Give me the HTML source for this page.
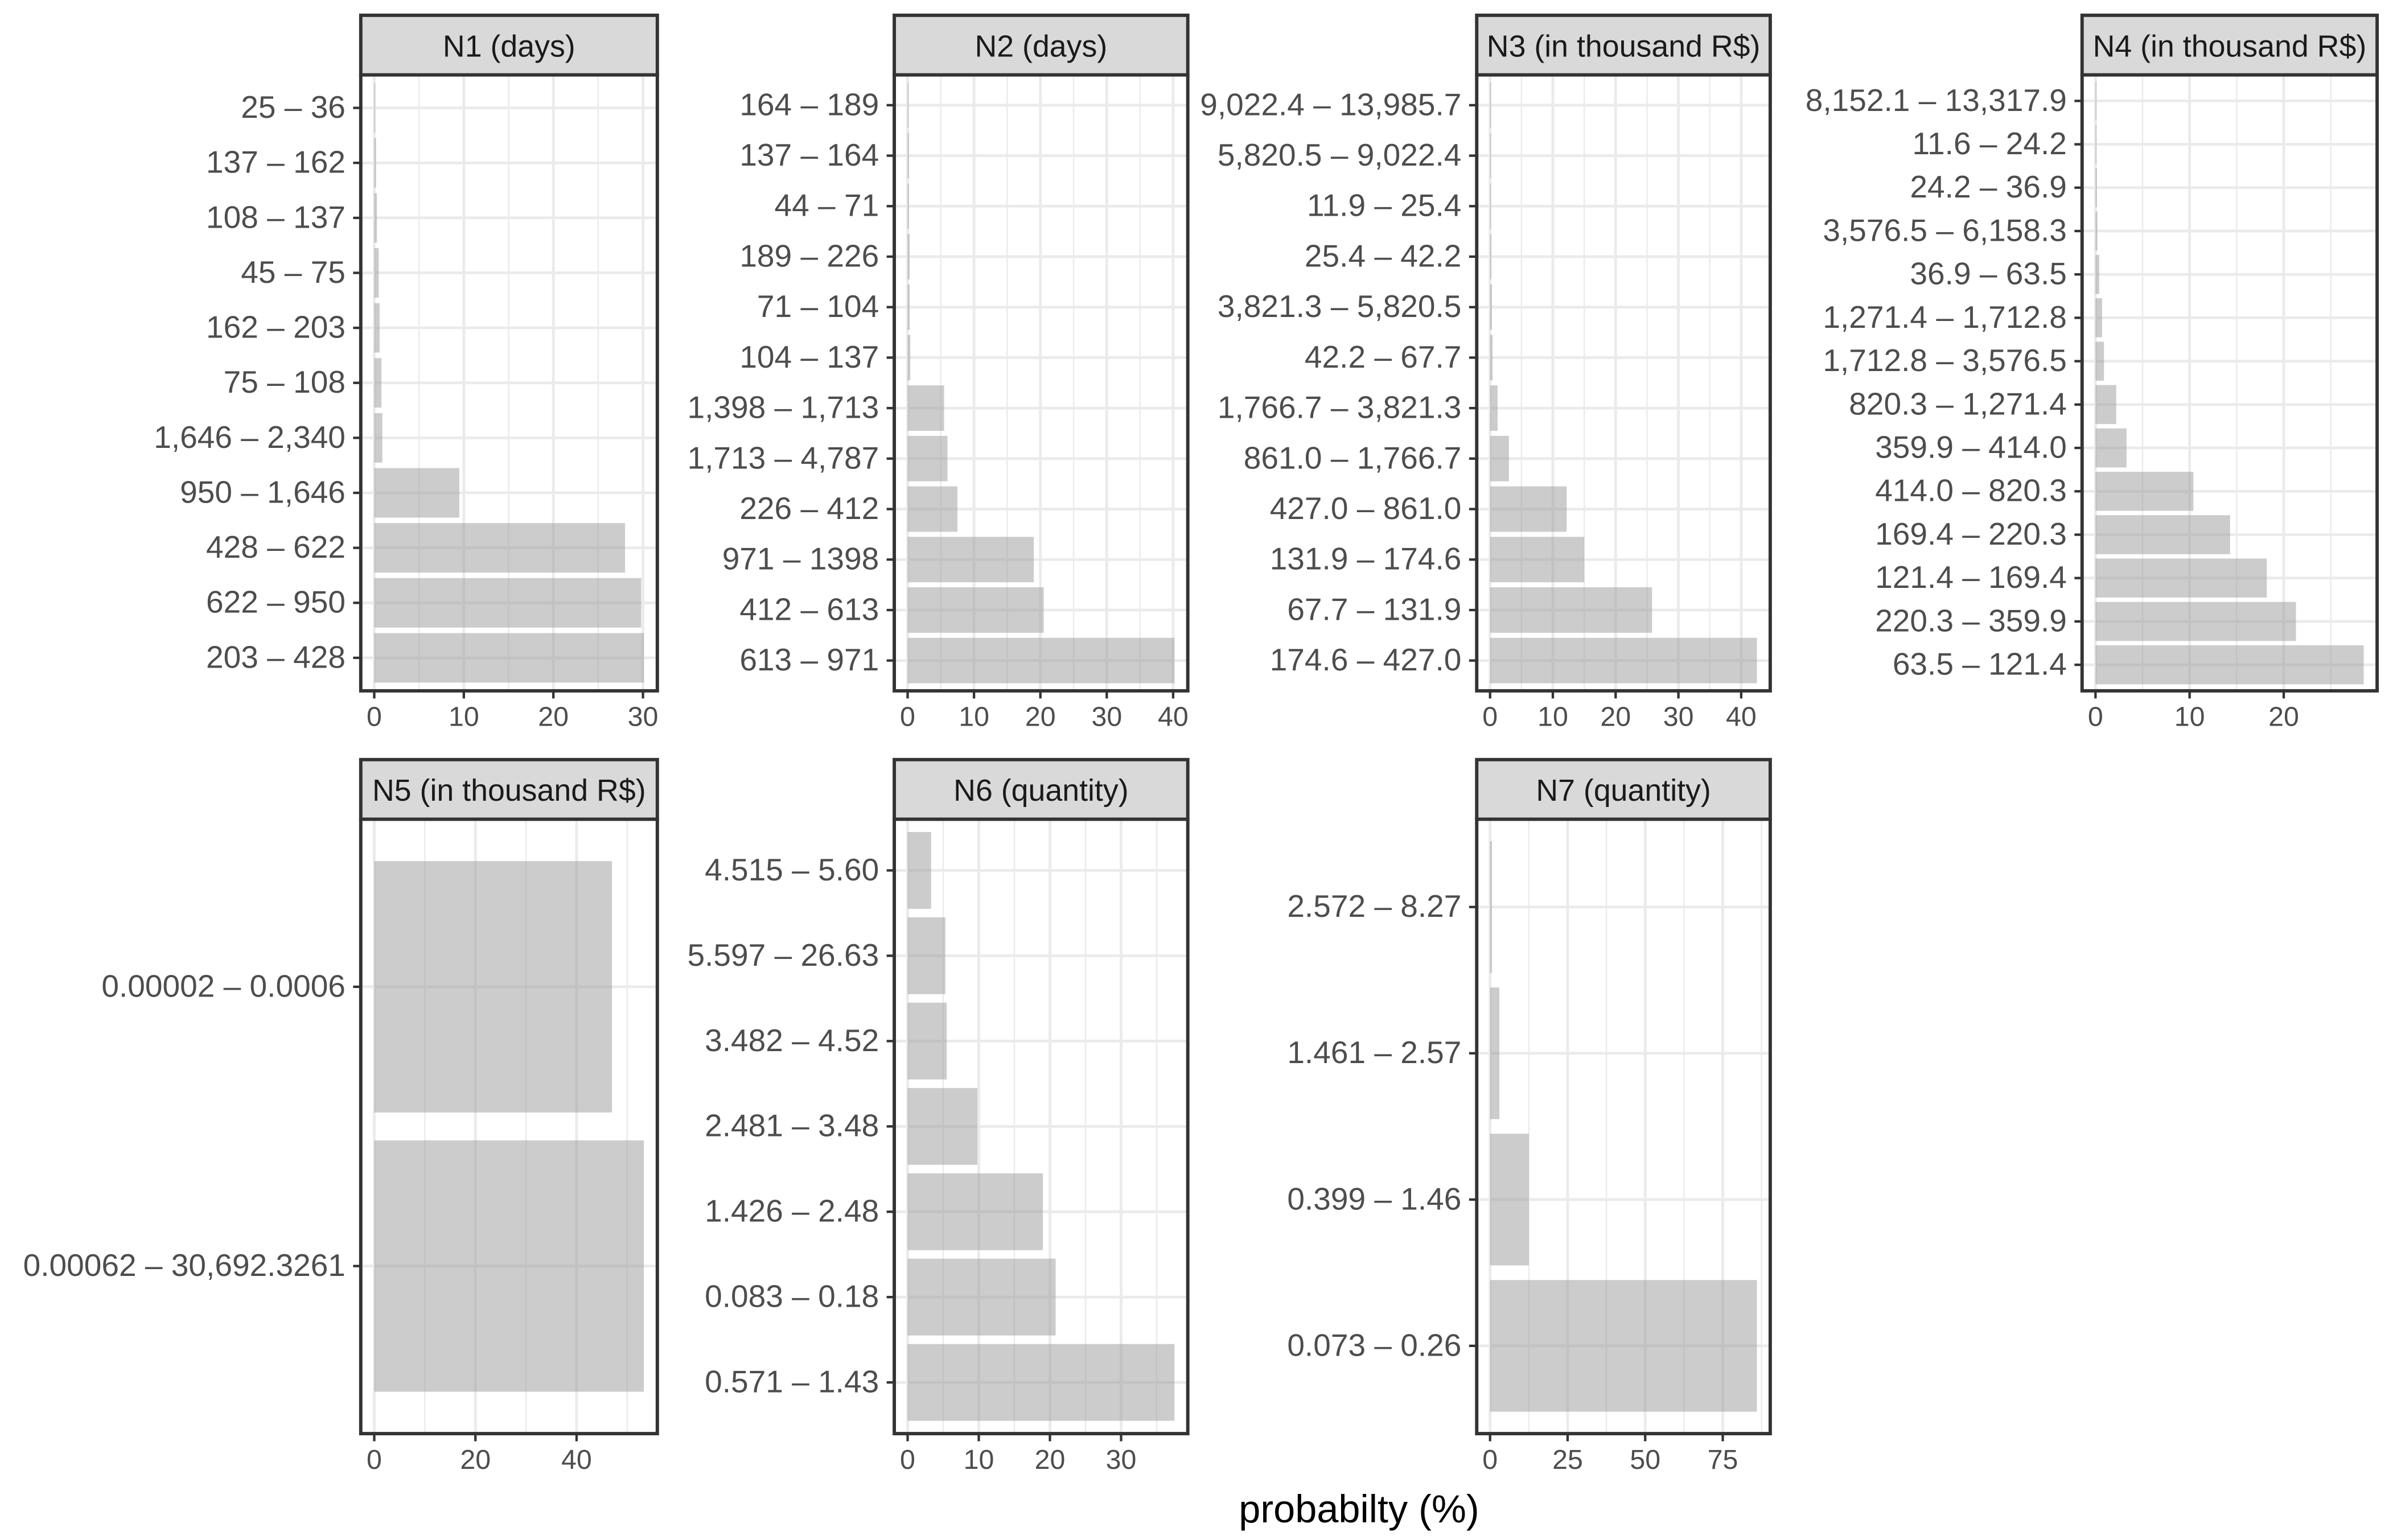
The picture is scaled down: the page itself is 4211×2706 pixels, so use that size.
<!DOCTYPE html>
<html><head><meta charset="utf-8"><style>
html,body{margin:0;padding:0;background:#fff;}
svg{display:block;font-family:"Liberation Sans",sans-serif;}
</style></head><body>
<svg id="chart" xmlns="http://www.w3.org/2000/svg" width="4211" height="2706" viewBox="0 0 1568 1007.6">
<rect x="0" y="0" width="1568" height="1007.6" fill="#fff"/>
<text x="889" y="996" text-anchor="middle" font-size="25.5" fill="#000">probabilty (%)</text>
</svg>
<script>
const titles = ["N1 (days)","N2 (days)","N3 (in thousand R$)","N4 (in thousand R$)","N5 (in thousand R$)","N6 (quantity)","N7 (quantity)"];
const cats1 = ["25 – 36","137 – 162","108 – 137","45 – 75","162 – 203","75 – 108","1,646 – 2,340","950 – 1,646","428 – 622","622 – 950","203 – 428"];
const vals1 = [0.1,0.2,0.3,0.5,0.6,0.8,0.9,9.5,28,29.8,30.1];
const cats2 = ["164 – 189","137 – 164","44 – 71","189 – 226","71 – 104","104 – 137","1,398 – 1,713","1,713 – 4,787","226 – 412","971 – 1398","412 – 613","613 – 971"];
const vals2 = [0.1,0.2,0.2,0.3,0.3,0.4,5.5,6,7.5,19,20.5,40.2];
const cats3 = ["9,022.4 – 13,985.7","5,820.5 – 9,022.4","11.9 – 25.4","25.4 – 42.2","3,821.3 – 5,820.5","42.2 – 67.7","1,766.7 – 3,821.3","861.0 – 1,766.7","427.0 – 861.0","131.9 – 174.6","67.7 – 131.9","174.6 – 427.0"];
const vals3 = [0.05,0.1,0.1,0.2,0.3,0.4,1.2,3,12.2,15,25.8,42.5];
const cats4 = ["8,152.1 – 13,317.9","11.6 – 24.2","24.2 – 36.9","3,576.5 – 6,158.3","36.9 – 63.5","1,271.4 – 1,712.8","1,712.8 – 3,576.5","820.3 – 1,271.4","359.9 – 414.0","414.0 – 820.3","169.4 – 220.3","121.4 – 169.4","220.3 – 359.9","63.5 – 121.4"];
const vals4 = [0.05,0.1,0.15,0.2,0.4,0.7,0.9,2.2,3.3,10.4,14.3,18.2,21.3,28.5];
const cats5 = ["0.00002 – 0.0006","0.00062 – 30,692.3261"];
const vals5 = [47,53.3];
const cats6 = ["4.515 – 5.60","5.597 – 26.63","3.482 – 4.52","2.481 – 3.48","1.426 – 2.48","0.083 – 0.18","0.571 – 1.43"];
const vals6 = [3.3,5.3,5.5,9.8,19,20.8,37.5];
const cats7 = ["2.572 – 8.27","1.461 – 2.57","0.399 – 1.46","0.073 – 0.26"];
const vals7 = [0.6,3,12.5,86];
const ticks1 = [0,10,20,30];
const ticks2 = [0,10,20,30,40];
const ticks3 = [0,10,20,30,40];
const ticks4 = [0,10,20];
const ticks5 = [0,20,40];
const ticks6 = [0,10,20,30];
const ticks7 = [0,25,50,75];

const NS="http://www.w3.org/2000/svg";
const svg=document.getElementById('chart');
function mk(tag,attrs,parent){const e=document.createElementNS(NS,tag);for(const k in attrs)e.setAttribute(k,attrs[k]);(parent||svg).appendChild(e);return e;}

const layout=[
 {x:236,w:194,row:0},{x:585,w:192,row:0},{x:966,w:192,row:0},{x:1362,w:193,row:0},
 {x:236,w:194,row:1},{x:585,w:192,row:1},{x:966,w:192,row:1}];
const rows=[{st:10,top:49,bot:452},{st:497,top:536,bot:938}];
const allCats=[cats1,cats2,cats3,cats4,cats5,cats6,cats7];
const allVals=[vals1,vals2,vals3,vals4,vals5,vals6,vals7];
const allTicks=[ticks1,ticks2,ticks3,ticks4,ticks5,ticks6,ticks7];

layout.forEach((L,i)=>{
  const R=rows[L.row], cats=allCats[i], vals=allVals[i], ticks=allTicks[i];
  const g=mk('g',{});
  
  
  const mx=Math.max(...vals);
  const lo=-0.05*mx, hi=1.05*mx;
  const xs=v=>L.x+(v-lo)/(hi-lo)*L.w;
  const n=cats.length, H=R.bot-R.top, unit=H/(n+0.2);
  const yc=k=>R.bot-(0.6+k)*unit;
  mk('rect',{x:L.x,y:R.top,width:L.w,height:H,fill:'#fff'},g);
  const step=ticks[1]-ticks[0];
  for(let v=ticks[0]-step/2; v<=hi; v+=step){ if(v<lo) continue;
    const l=mk('line',{x1:xs(v),x2:xs(v),y1:R.top,y2:R.bot,stroke:'#ebebeb','stroke-width':0.9},g);
    
    
  }
  ticks.forEach(t=>{
    const l=mk('line',{x1:xs(t),x2:xs(t),y1:R.top,y2:R.bot,stroke:'#ebebeb','stroke-width':1.8},g);
    
    
  });
  cats.forEach((c,j)=>{
    const k=n-1-j;
    const l=mk('line',{x1:L.x,x2:L.x+L.w,y1:yc(k),y2:yc(k),stroke:'#ebebeb','stroke-width':1.8},g);
    
    
  });
  cats.forEach((c,j)=>{
    const k=n-1-j;
    const b=mk('rect',{x:xs(0),y:yc(k)-0.45*unit,width:Math.max(0.6,xs(vals[j])-xs(0)),height:0.9*unit,fill:'#999',opacity:0.5},g);
    
    
    const lab=mk('text',{x:L.x-10,y:yc(k)+6.5,'text-anchor':'end','font-size':20.5,fill:'#4d4d4d'},g);
    lab.textContent=c;
    
    
    mk('line',{x1:L.x-5,x2:L.x,y1:yc(k),y2:yc(k),stroke:'#333','stroke-width':1.6},g);
  });
  ticks.forEach(t=>{
    mk('line',{x1:xs(t),x2:xs(t),y1:R.bot,y2:R.bot+5,stroke:'#333','stroke-width':1.6},g);
    const tl=mk('text',{x:xs(t),y:R.bot+23,'text-anchor':'middle','font-size':18,fill:'#4d4d4d'},g);
    tl.textContent=t;
    
    
  });
  const fr=mk('rect',{x:L.x,y:R.top,width:L.w,height:H,fill:'none',stroke:'#333','stroke-width':2.2},g);
  
  
  const st=mk('rect',{x:L.x,y:R.st,width:L.w,height:R.top-R.st,fill:'#d9d9d9',stroke:'#333','stroke-width':2.2},g);
  
  
  const tt=mk('text',{x:L.x+L.w/2,y:R.st+27,'text-anchor':'middle','font-size':20,fill:'#1a1a1a'},g);
  tt.textContent=titles[i];
  
  
});
</script>
</body></html>
